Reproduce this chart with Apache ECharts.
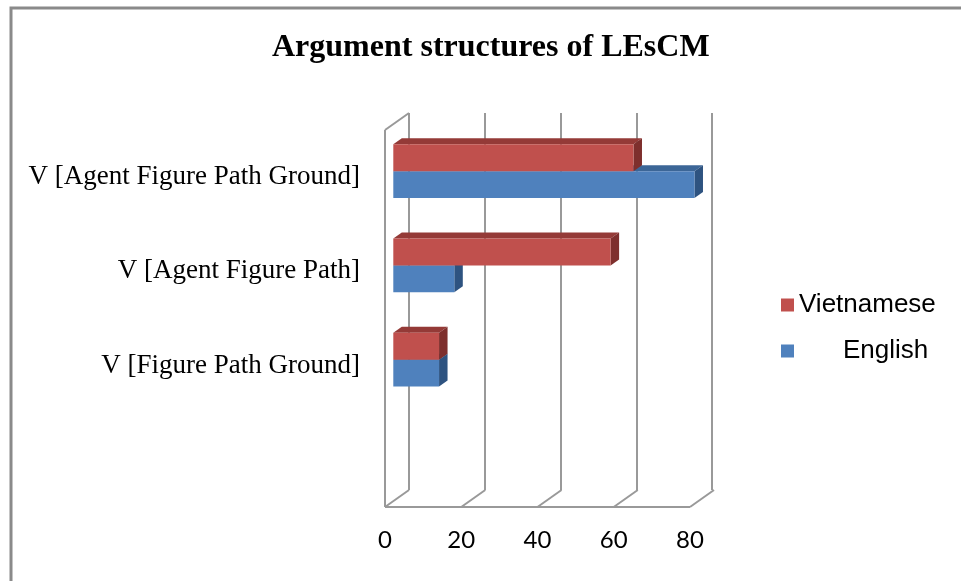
<!DOCTYPE html>
<html>
<head>
<meta charset="utf-8">
<script src="https://cdn.jsdelivr.net/npm/echarts@6/dist/echarts.min.js"></script>
<style>
  html, body { margin: 0; padding: 0; background: #fff; }
  #chart { width: 961px; height: 581px; }
</style>
</head>
<body>
<div id="chart"></div>
<script>
// Categories, top to bottom; the last slot is an empty row
const categories = ['V [Agent Figure Path Ground]', 'V [Agent Figure Path]', 'V [Figure Path Ground]', ''];
const vietnamese = [63, 57, 12];
const english = [79, 16, 12];
const xTicks = [0, 20, 40, 60, 80];

// 3D look: offsets of the bar plane and of the back wall relative to the front plane
const BAR_SHIFT = [8.3, -5.9];
const WALL_SHIFT = [24, -17];
const BAR_DEPTH = [8.5, -6];
const BAR_FRAC = 0.285;

const palette = {
  Vietnamese: { front: '#C0504D', top: '#943A37', side: '#7E2F2D' },
  English: { front: '#4F81BD', top: '#3C6697', side: '#2E5380' }
};
const gridColor = '#999999';

function barRenderer(name, above) {
  const c = palette[name];
  return function (params, api) {
    const v = api.value(0), cat = api.value(1);
    const p0 = api.coord([0, cat]);
    const p1 = api.coord([v, cat]);
    const h = api.size([0, 1])[1] * BAR_FRAC;
    const cy = p0[1] + BAR_SHIFT[1];
    const top = above ? cy - h : cy;
    const x0 = p0[0] + BAR_SHIFT[0];
    const x1 = p1[0] + BAR_SHIFT[0];
    const dx = BAR_DEPTH[0], dy = BAR_DEPTH[1];
    return {
      type: 'group',
      children: [
        { type: 'polygon', shape: { points: [[x0, top], [x0 + dx, top + dy], [x1 + dx, top + dy], [x1, top]] },
          style: { fill: c.top } },
        { type: 'polygon', shape: { points: [[x1, top], [x1 + dx, top + dy], [x1 + dx, top + h + dy], [x1, top + h]] },
          style: { fill: c.side } },
        { type: 'rect', shape: { x: x0, y: top, width: x1 - x0, height: h },
          style: { fill: c.front } }
      ]
    };
  };
}

// Floor edges and the left wall of the plot box
function frameRenderer(params, api) {
  const cs = params.coordSys;
  const bottom = cs.y + cs.height;
  const v = api.value(0);
  const x = api.coord([v, 0])[0];
  const line = (a, b) => ({ type: 'line', shape: { x1: a[0], y1: a[1], x2: b[0], y2: b[1] },
    style: { stroke: gridColor, lineWidth: 2 } });
  const children = [line([x, bottom], [x + WALL_SHIFT[0], bottom + WALL_SHIFT[1]])];
  if (params.dataIndex === 0) {
    const xEnd = api.coord([xTicks[xTicks.length - 1], 0])[0];
    children.push(line([x, bottom], [xEnd, bottom]));
    children.push(line([x, cs.y], [x, bottom]));
    children.push(line([x, cs.y], [x + WALL_SHIFT[0], cs.y + WALL_SHIFT[1]]));
  }
  return { type: 'group', children };
}

const chart = echarts.init(document.getElementById('chart'), null, { renderer: 'canvas' });

chart.setOption({
  animation: false,
  backgroundColor: '#ffffff',
  title: {
    text: 'Argument structures of LEsCM',
    left: 267,
    top: 27,
    textStyle: { fontFamily: 'Liberation Serif', fontWeight: 'bold', fontSize: 32, color: '#000' }
  },
  graphic: [
    { type: 'rect', shape: { x: 11, y: 8, width: 1000, height: 620 }, silent: true,
      style: { fill: 'none', stroke: '#8a8a8a', lineWidth: 3 }, z: 100 }
  ],
  legend: {
    orient: 'vertical',
    left: 776,
    top: 287,
    itemWidth: 13,
    itemHeight: 13,
    itemGap: 20,
    icon: 'rect',
    textStyle: { fontFamily: 'Liberation Sans', fontSize: 26, color: '#000', padding: [0, 0, 0, 0] },
    data: [
      { name: 'Vietnamese' },
      { name: 'English', textStyle: { padding: [0, 0, 0, 44] } }
    ]
  },
  grid: [
    { left: 385, top: 130, width: 305, height: 377 },
    { left: 409, top: 113, width: 303, height: 377 }
  ],
  xAxis: [
    { gridIndex: 0, type: 'value', min: 0, max: 80, interval: 20,
      axisLine: { show: false }, axisTick: { show: false }, splitLine: { show: false },
      axisLabel: { fontFamily: 'Lato', fontSize: 24, color: '#000', margin: 21 } },
    { gridIndex: 1, type: 'value', min: 0, max: 80, interval: 20,
      axisLine: { show: false }, axisTick: { show: false }, axisLabel: { show: false },
      splitLine: { show: true, lineStyle: { color: gridColor, width: 2 } } }
  ],
  yAxis: [
    { gridIndex: 0, type: 'category', data: categories, inverse: true,
      axisLine: { show: false }, axisTick: { show: false },
      axisLabel: { fontFamily: 'Liberation Serif', fontSize: 27, color: '#000', margin: 25,
        padding: [6, 0, 0, 0] } },
    { gridIndex: 1, type: 'category', data: categories, inverse: true, show: false }
  ],
  series: [
    { type: 'custom', name: 'frame', xAxisIndex: 0, yAxisIndex: 0, silent: true, z: 1,
      renderItem: frameRenderer, data: xTicks.map(v => [v]) },
    { type: 'custom', name: 'English', xAxisIndex: 0, yAxisIndex: 0, z: 3,
      itemStyle: { color: palette.English.front },
      renderItem: barRenderer('English', false),
      data: english.map((v, i) => [v, i]) },
    { type: 'custom', name: 'Vietnamese', xAxisIndex: 0, yAxisIndex: 0, z: 4,
      itemStyle: { color: palette.Vietnamese.front },
      renderItem: barRenderer('Vietnamese', true),
      data: vietnamese.map((v, i) => [v, i]) }
  ]
});
</script>
</body>
</html>
